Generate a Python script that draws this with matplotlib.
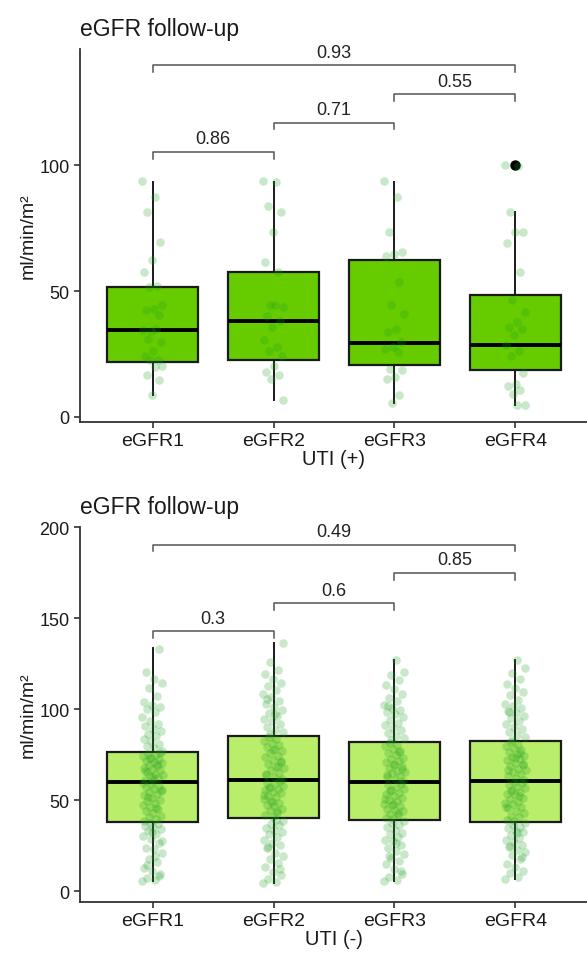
import numpy as np
import matplotlib
matplotlib.use("Agg")
import matplotlib.pyplot as plt

plt.rcParams['font.family'] = ['Liberation Sans', 'DejaVu Sans']

groups = ['eGFR1', 'eGFR2', 'eGFR3', 'eGFR4']

# box statistics (UTI +)
pos_q1 = [21.8, 22.7, 20.8, 18.5]
pos_med = [34.4, 38.3, 29.5, 28.4]
pos_q3 = [51.6, 57.5, 62.4, 48.5]
pos_lo = [8.8, 6.9, 5.7, 4.6]
pos_hi = [93.3, 93.3, 93.3, 81.3]
pos_out = [[], [], [], [100]]

# box statistics (UTI -)
neg_q1 = [38.3, 40.1, 39.2, 37.9]
neg_med = [59.9, 61.2, 59.9, 60.8]
neg_q3 = [76.4, 85.5, 82.2, 82.6]
neg_lo = [5.8, 4.4, 5.5, 6.8]
neg_hi = [133.5, 136.4, 127.3, 127.3]
neg_out = [[], [], [], []]

# individual points, UTI (+)
pos_1 = [93.6, 87.5, 81.6, 69.7, 62.4, 57.5, 52.2, 51.8, 44.3, 43.0, 42.6, 40.7,
         34.0, 34.5, 35.0, 31.1, 29.8, 26.4, 24.4, 22.7, 22.5, 20.2, 19.8, 16.5, 14.8, 8.6]
pos_2 = [93.6, 93.3, 83.7, 81.3, 73.6, 61.5, 57.5, 44.3, 43.6, 44.6, 40.3, 38.3,
         35.7, 30.4, 27.8, 26.4, 24.4, 20.4, 17.8, 16.5, 15.2, 6.6]
pos_3 = [93.6, 87.5, 73.4, 65.5, 64.8, 64.1, 53.6, 44.6, 41.0, 35.0, 33.7, 29.8,
         27.8, 27.1, 25.8, 19.2, 18.5, 15.9, 15.2, 8.6, 5.7]
pos_4 = [100.0, 99.8, 81.6, 73.6, 73.4, 69.3, 57.5, 46.5, 41.7, 37.7, 35.7, 35.0,
         32.4, 28.4, 26.4, 24.4, 17.6, 13.2, 12.5, 10.6, 9.3, 4.9, 4.6]

# individual points, UTI (-)
neg_1 = [5.8, 6.2, 7.5, 9.4, 11, 12.8, 16, 17.5, 21, 23.4, 24, 26.5, 29, 30.2, 31.7,
         33, 34.5, 35.2, 36, 37.1, 37.8, 27.8, 19.6, 14.2, 8.3, 32.4,
         38.6, 39.5, 40.8, 41.3, 42.9, 44, 45.2, 46.6, 47.3, 48.8, 49.5, 50.1, 51.4,
         52.7, 53.3, 54.8, 55.6, 56.2, 57.4, 58, 58.9, 59.3, 45.9, 51.9, 55,
         60.4, 61.2, 62.5, 63.1, 63.8, 64.6, 65.3, 66.7, 67.2, 68, 68.9, 69.5, 70.3,
         71.1, 71.8, 72.6, 73.4, 74.1, 74.9, 75.6, 76.1, 62.9, 66.1, 69.9, 73,
         77.2, 78.5, 79.8, 81, 82.4, 83.7, 85.1, 86.6, 88.3, 89, 90.7, 92.2, 93.5,
         95.8, 98.7, 100.4, 101.2, 102.6, 104, 107.5, 111.9, 114.6, 116.7, 120.3, 133]
neg_2 = [4.4, 5.1, 6.8, 8.9, 10.5, 13.2, 15.7, 17.9, 19.4, 21.3, 23.8, 25.2, 26.6,
         28.1, 29.7, 31.4, 32.8, 33.5, 35, 36.3, 37.2, 38.4, 39.3, 24.5, 12,
         40.6, 41.9, 43.2, 44.5, 45.1, 46.8, 47.7, 48.5, 49.9, 50.6, 51.8, 52.4, 53.9,
         54.7, 55.5, 56.3, 57.2, 58.1, 58.8, 59.6, 60.4, 49.2, 53.1, 44, 56.9,
         61.8, 62.7, 63.9, 65, 66.4, 67.8, 68.5, 69.7, 70.9, 72.3, 73.6, 74.4, 75.8,
         76.9, 78.2, 79.1, 80.5, 81.3, 82.7, 83.9, 84.8, 71.5, 77.6, 64.4, 69.1,
         86.2, 87.5, 88.9, 90.3, 91.7, 93.4, 94.8, 96.2, 98.1, 99.6, 101.3, 102.8,
         104.5, 106.9, 108.2, 110.6, 112.9, 114.3, 116.8, 119.5, 121.7, 126, 136.4, 97.3, 105.6]
neg_3 = [5.5, 6.1, 7.9, 9.6, 12.3, 14.8, 16.5, 18.2, 20.7, 22.1, 23.9, 25.4, 27.6,
         28.3, 29.8, 31.5, 32.2, 33.9, 35.1, 36.4, 37.3, 38.6, 26.7, 19.3, 11.2,
         39.8, 40.5, 41.7, 42.4, 43.9, 44.6, 45.3, 46.9, 47.5, 48.2, 49.7, 50.4, 51.1,
         52.6, 53.3, 54.1, 55.8, 56.4, 57.2, 58.5, 59.1, 47.8, 50.9, 43.3, 55.2,
         60.6, 61.5, 62.8, 63.4, 64.9, 65.7, 66.3, 67.9, 68.6, 69.2, 70.8, 71.4, 72.9,
         73.5, 74.7, 75.9, 77.2, 78.4, 79.6, 80.3, 81.6, 67.1, 70.1, 63.9, 76.5,
         82.9, 84.3, 85.6, 87.1, 88.4, 89.9, 91.2, 92.7, 94.3, 95.6, 97.2, 98.8, 99.7,
         100.9, 102.3, 104.8, 106.1, 108.7, 111.4, 113.2, 115.9, 118.6, 120.4, 127.3, 101.6]
neg_4 = [6.8, 7.7, 9.9, 11.4, 13.6, 15.2, 17.8, 19.9, 21.5, 22.8, 24.3, 25.7, 26.9,
         28.4, 29.5, 30.9, 32.6, 33.4, 34.7, 35.3, 36.2, 37.4, 31.8, 25.1, 18.9,
         38.5, 39.4, 40.9, 41.6, 42.8, 44.3, 45.7, 46.4, 47.9, 48.6, 49.3, 50.8, 51.5,
         52.9, 53.6, 54.4, 55.9, 56.7, 57.5, 58.3, 59.6, 60.2, 46.1, 52.2, 55.3,
         61.4, 62.3, 63.6, 64.2, 65.8, 66.5, 67.4, 68.7, 69.3, 70.6, 71.9, 72.5, 73.8,
         74.6, 75.3, 76.8, 77.5, 78.9, 79.7, 80.4, 81.8, 69.9, 73.1, 66.9, 76.2,
         83.4, 84.7, 86.1, 87.8, 89.3, 90.5, 91.9, 93.6, 95.1, 96.4, 97.8, 99.3, 100.5,
         101.7, 103.2, 105.4, 107.9, 109.6, 111.8, 114.1, 116.5, 119.8, 122.7, 127.3, 98.6]

# pairwise comparisons (p values) and bracket heights
pairs = [(1, 2), (2, 3), (3, 4), (1, 4)]
pos_p = ['0.86', '0.71', '0.55', '0.93']
pos_brk = [105.3, 116.9, 128.3, 139.8]
neg_p = ['0.3', '0.6', '0.85', '0.49']
neg_brk = [142.9, 158.4, 175.0, 190.5]


def drawPanel(ax, q1, med, q3, lo, hi, out, points, fill, pvals, brk, ylim, yticks, xlab):
    stats = []
    for i in range(4):
        stats.append({'q1': q1[i], 'med': med[i], 'q3': q3[i], 'whislo': lo[i],
                      'whishi': hi[i], 'fliers': out[i]})
    ax.bxp(stats, positions=[1, 2, 3, 4], widths=0.75, patch_artist=True, showcaps=False,
           boxprops=dict(facecolor=fill, edgecolor='#1a1a1a', linewidth=1.6),
           medianprops=dict(color='black', linewidth=2.8),
           whiskerprops=dict(color='#1a1a1a', linewidth=1.4),
           flierprops=dict(marker='o', markerfacecolor='black', markeredgecolor='black', markersize=6.5))
    # jittered points on top of the boxes
    for g in range(4):
        vals = np.array(points[g])
        k = np.arange(len(vals))
        jit = ((k * 0.6180339887) % 1 - 0.5) * 0.17
        ax.scatter(g + 1 + jit, vals, s=38, color='#1e9e1e', alpha=0.24, linewidths=0, zorder=3)
    # significance brackets
    tip = 0.018 * (ylim[1] - ylim[0])
    for (a, b), p, y in zip(pairs, pvals, brk):
        ax.plot([a, a, b, b], [y - tip, y, y, y - tip], color='#555555', lw=1.1, zorder=4)
        ax.text((a + b) / 2, y + 0.012 * (ylim[1] - ylim[0]), p, ha='center', va='bottom',
                fontsize=13, color='#222222')
    ax.set_xlim(0.4, 4.6)
    ax.set_ylim(ylim)
    ax.set_xticks([1, 2, 3, 4])
    ax.set_xticklabels(groups)
    ax.set_yticks(yticks)
    for s in ['top', 'right']:
        ax.spines[s].set_visible(False)
    for s in ['left', 'bottom']:
        ax.spines[s].set_color('#333333')
        ax.spines[s].set_linewidth(1.3)
    ax.tick_params(colors='#333333', width=1.2, length=4, labelcolor='#1a1a1a')
    ax.tick_params(axis='x', labelsize=14)
    ax.tick_params(axis='y', labelsize=13)
    ax.set_xlabel(xlab, fontsize=14.5, color='#1a1a1a', labelpad=0)
    ax.set_ylabel('ml/min/m²', fontsize=14, color='#1a1a1a', labelpad=2)
    ax.set_title('eGFR follow-up', loc='left', fontsize=16.5, color='#1a1a1a', pad=10)


fig = plt.figure(figsize=(5.87, 9.54), dpi=100)
ax1 = fig.add_axes([80 / 587, 1 - 423 / 954, 508 / 587, 373 / 954])
ax2 = fig.add_axes([80 / 587, 1 - 902.7 / 954, 508 / 587, 374.7 / 954])

drawPanel(ax1, pos_q1, pos_med, pos_q3, pos_lo, pos_hi, pos_out, [pos_1, pos_2, pos_3, pos_4],
          '#66cc00', pos_p, pos_brk, (-2, 146.2), [0, 50, 100], 'UTI (+)')
drawPanel(ax2, neg_q1, neg_med, neg_q3, neg_lo, neg_hi, neg_out, [neg_1, neg_2, neg_3, neg_4],
          '#b8ee6a', neg_p, neg_brk, (-5.7, 200.2), [0, 50, 100, 150, 200], 'UTI (-)')

fig.savefig('out.png', dpi=100)
